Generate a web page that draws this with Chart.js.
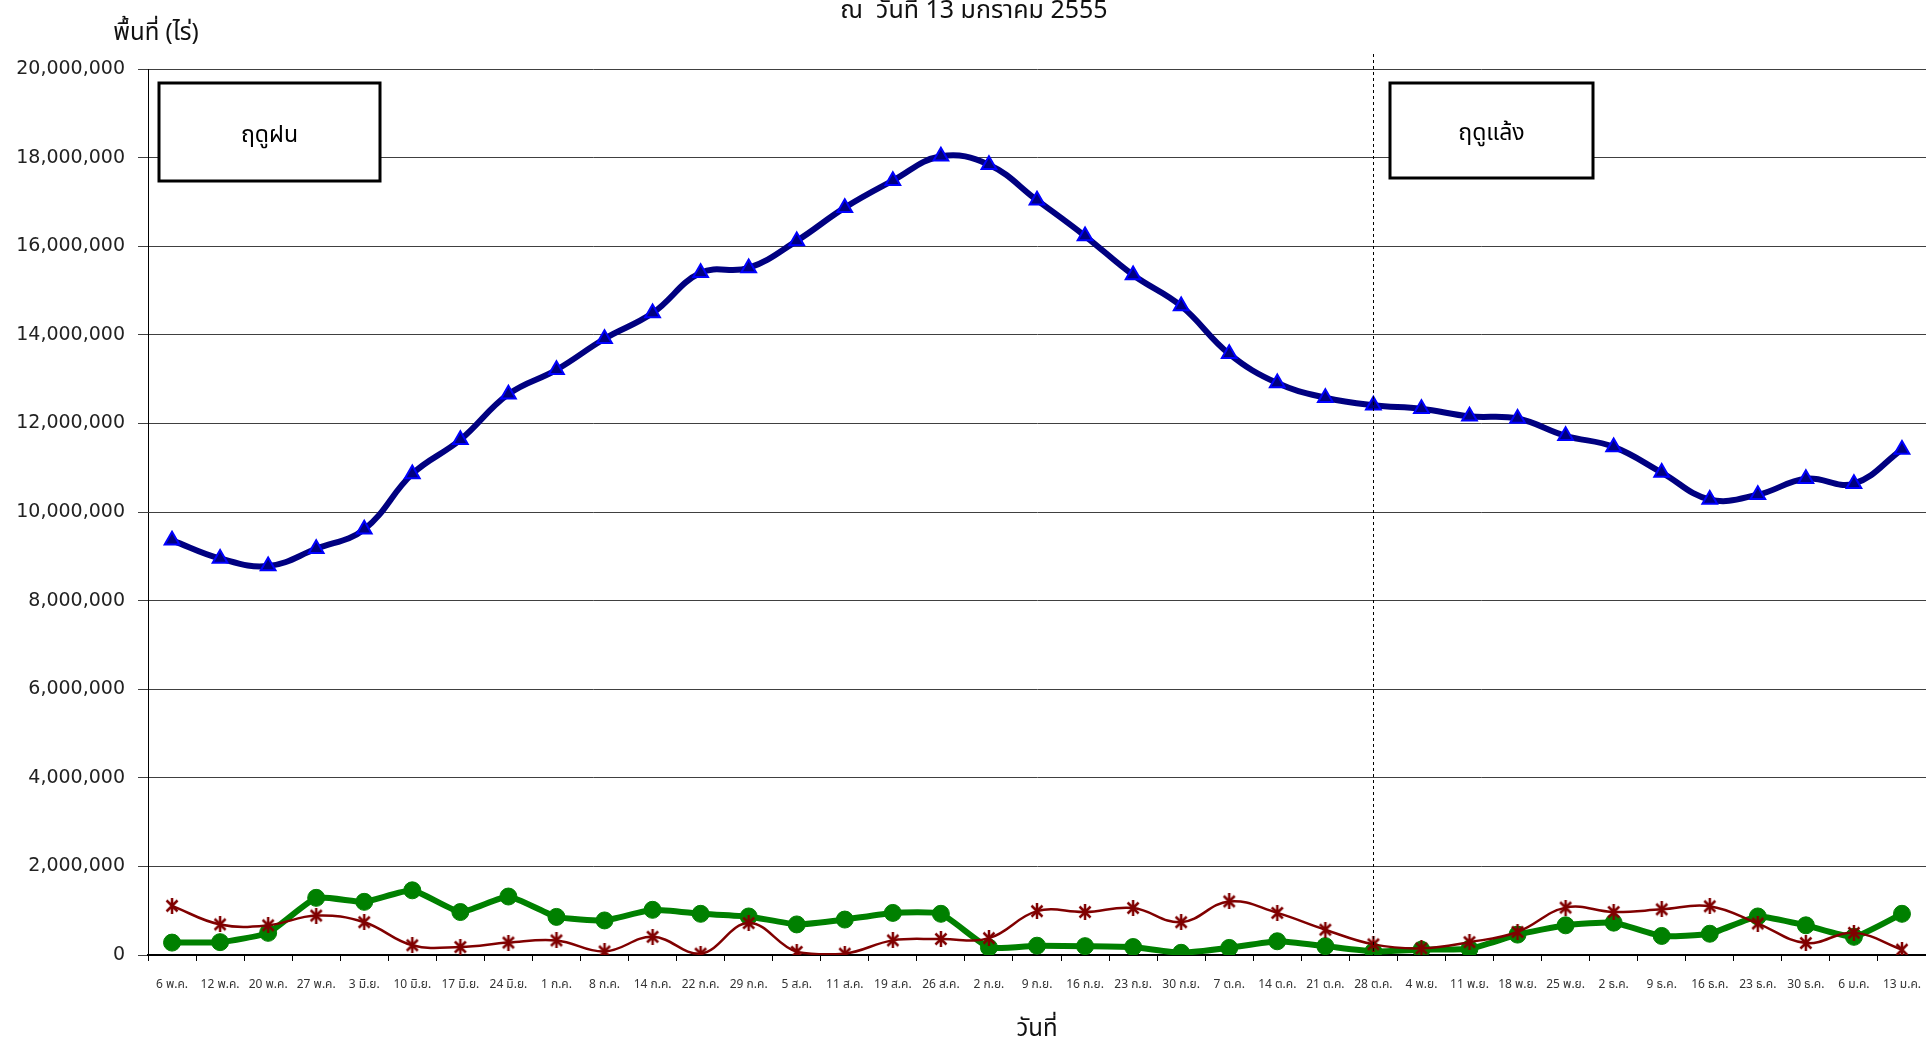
<!DOCTYPE html>
<html>
<head>
<meta charset="utf-8">
<script src="https://cdn.jsdelivr.net/npm/chart.js@4/dist/chart.umd.min.js"></script>
<style>
  html, body { margin: 0; padding: 0; background: #ffffff; overflow: hidden; }
  #wrap { width: 1926px; height: 1043px; }
</style>
</head>
<body>
<div id="wrap"><canvas id="c" width="1926" height="1043"></canvas></div>
<script>
// ---------- data ----------
const categories = [
  '6 พ.ค.', '12 พ.ค.', '20 พ.ค.', '27 พ.ค.', '3 มิ.ย.', '10 มิ.ย.', '17 มิ.ย.', '24 มิ.ย.',
  '1 ก.ค.', '8 ก.ค.', '14 ก.ค.', '22 ก.ค.', '29 ก.ค.', '5 ส.ค.', '11 ส.ค.', '19 ส.ค.', '26 ส.ค.',
  '2 ก.ย.', '9 ก.ย.', '16 ก.ย.', '23 ก.ย.', '30 ก.ย.', '7 ต.ค.', '14 ต.ค.', '21 ต.ค.', '28 ต.ค.',
  '4 พ.ย.', '11 พ.ย.', '18 พ.ย.', '25 พ.ย.', '2 ธ.ค.', '9 ธ.ค.', '16 ธ.ค.', '23 ธ.ค.', '30 ธ.ค.',
  '6 ม.ค.', '13 ม.ค.'
];

const blueValues = [
  9360000, 8950000, 8780000, 9170000, 9610000, 10860000, 11630000, 12660000,
  13210000, 13910000, 14490000, 15400000, 15510000, 16120000, 16870000, 17480000, 18030000,
  17840000, 17040000, 16230000, 15350000, 14650000, 13570000, 12910000, 12580000, 12410000,
  12330000, 12160000, 12110000, 11720000, 11470000, 10890000, 10280000, 10390000, 10750000,
  10640000, 11410000
];

const greenValues = [
  280000, 290000, 500000, 1290000, 1200000, 1460000, 970000, 1320000,
  860000, 780000, 1020000, 930000, 870000, 690000, 800000, 950000, 930000,
  170000, 210000, 200000, 180000, 50000, 160000, 310000, 200000, 80000,
  120000, 140000, 460000, 670000, 730000, 430000, 480000, 870000, 670000,
  410000, 930000
];

const redValues = [
  1110000, 690000, 670000, 890000, 740000, 220000, 180000, 280000,
  330000, 80000, 410000, 30000, 720000, 70000, 30000, 330000, 360000,
  380000, 990000, 970000, 1060000, 740000, 1210000, 950000, 570000, 240000,
  150000, 290000, 520000, 1070000, 970000, 1030000, 1100000, 710000, 270000,
  500000, 120000
];

const yTicks = [0, 2000000, 4000000, 6000000, 8000000, 10000000, 12000000, 14000000, 16000000, 18000000, 20000000];

const chartTitle = 'ณ  วันที่ 13 มกราคม 2555';
const yAxisTitle = 'พื้นที่ (ไร่)';
const xAxisTitle = 'วันที่';
const season1 = 'ฤดูฝน';
const season2 = 'ฤดูแล้ง';
const seasonSplitIndex = 25; // 28 ต.ค.

// ---------- styling ----------
const THAI = '"Noto Sans Thai", "Noto Sans", "DejaVu Sans", sans-serif';

function makeAsterisk(color) {
  const s = 16;
  const cv = document.createElement('canvas');
  cv.width = s; cv.height = s;
  const g = cv.getContext('2d');
  g.strokeStyle = color;
  g.lineWidth = 2.5;
  g.lineCap = 'butt';
  g.beginPath();
  g.moveTo(2.5, 2.5); g.lineTo(s - 2.5, s - 2.5);
  g.moveTo(s - 2.5, 2.5); g.lineTo(2.5, s - 2.5);
  g.moveTo(s / 2, 0); g.lineTo(s / 2, s);
  g.stroke();
  return cv;
}
const starImg = makeAsterisk('#800000');

const overlay = {
  id: 'overlay',
  afterDatasetsDraw(chart) {
    const ctx = chart.ctx;
    const x = chart.scales.x;
    const area = chart.chartArea;
    ctx.save();
    // dashed season separator
    const sx = Math.round(x.getPixelForValue(seasonSplitIndex)) + 0.5;
    ctx.strokeStyle = '#000';
    ctx.lineWidth = 1;
    ctx.setLineDash([3, 3]);
    ctx.beginPath();
    ctx.moveTo(sx, 54);
    ctx.lineTo(sx, area.bottom);
    ctx.stroke();
    ctx.setLineDash([]);

    // season boxes
    function box(x0, y0, x1, y1, text) {
      ctx.fillStyle = '#fff';
      ctx.fillRect(x0, y0, x1 - x0, y1 - y0);
      ctx.strokeStyle = '#000';
      ctx.lineWidth = 3;
      ctx.strokeRect(x0, y0, x1 - x0, y1 - y0);
      ctx.fillStyle = '#000';
      ctx.font = '23px ' + THAI;
      ctx.textAlign = 'center';
      ctx.textBaseline = 'middle';
      ctx.fillText(text, (x0 + x1) / 2, (y0 + y1) / 2 + 5);
    }
    box(159, 83, 380, 181, season1);
    box(1390, 83, 1593, 178, season2);

    // chart title (cut at top as in original)
    ctx.fillStyle = '#111';
    ctx.font = '25px ' + THAI;
    ctx.textAlign = 'center';
    ctx.textBaseline = 'alphabetic';
    ctx.fillText(chartTitle, 974, 18);

    // y axis title
    ctx.font = '24px ' + THAI;
    ctx.fillText(yAxisTitle, 156, 40);
    ctx.restore();
  }
};

new Chart(document.getElementById('c'), {
  type: 'line',
  data: {
    labels: categories,
    datasets: [
      {
        data: blueValues,
        borderColor: '#000080',
        borderWidth: 6,
        tension: 0.4,
        pointStyle: 'triangle',
        pointRadius: 8.5,
        pointBackgroundColor: '#000080',
        pointBorderColor: '#0000ff',
        pointBorderWidth: 2,
        fill: false
      },
      {
        data: redValues,
        borderColor: '#800000',
        borderWidth: 2.5,
        tension: 0.4,
        pointStyle: starImg,
        pointRadius: 8,
        fill: false
      },
      {
        data: greenValues,
        borderColor: '#008000',
        borderWidth: 6,
        tension: 0.15,
        pointStyle: 'circle',
        pointRadius: 8.5,
        pointBackgroundColor: '#008000',
        pointBorderColor: '#008000',
        pointBorderWidth: 1,
        fill: false
      }
    ]
  },
  options: {
    responsive: false,
    animation: false,
    events: [],
    layout: { autoPadding: false, padding: { top: 69, right: 0, bottom: 0, left: 0 } },
    plugins: { legend: { display: false }, tooltip: { enabled: false }, title: { display: false } },
    scales: {
      x: {
        offset: true,
        grid: { offset: true, drawOnChartArea: false, drawTicks: true, tickLength: 6, color: '#000', lineWidth: 1 },
        border: { color: '#000', width: 2 },
        ticks: {
          autoSkip: false, maxRotation: 0, minRotation: 0,
          color: '#333', padding: 17,
          font: { family: THAI, size: 12 }
        },
        title: {
          display: true, text: xAxisTitle, color: '#111',
          font: { family: THAI, size: 24, lineHeight: 0.95 }, padding: { top: 0, bottom: 0 }
        },
        afterFit(scale) { scale.height = 88; scale.paddingLeft = 0; scale.paddingRight = 0; }
      },
      y: {
        min: 0, max: 20000000,
        afterBuildTicks(scale) { scale.ticks = yTicks.map(v => ({ value: v })); },
        grid: { color: '#404040', lineWidth: 1, tickLength: 10, drawTicks: true },
        border: { color: '#000', width: 1 },
        ticks: {
          color: '#222', padding: 13,
          font: { family: '"DejaVu Sans", sans-serif', size: 19 },
          callback: v => Number(v).toLocaleString('en-US')
        },
        afterFit(scale) { scale.width = 148; }
      }
    }
  },
  plugins: [overlay]
});
</script>
</body>
</html>
